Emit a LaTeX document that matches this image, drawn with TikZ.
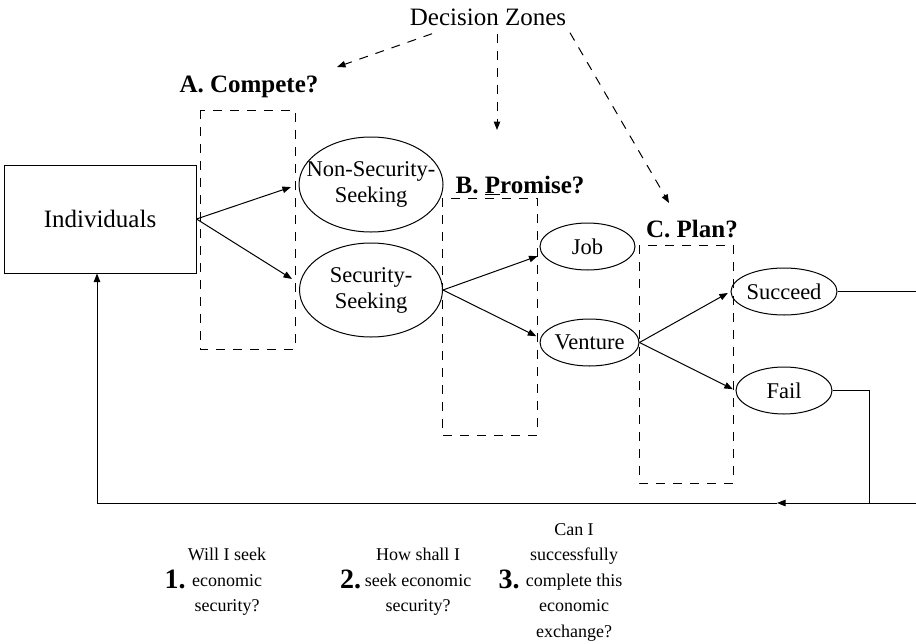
\documentclass[tikz,border=0pt]{standalone}
\usepackage{fontspec}
\setmainfont{Liberation Serif}
\usetikzlibrary{shapes.geometric,arrows.meta}
\begin{document}
\begin{tikzpicture}[x = 1pt, y = -1pt, line width = 1pt, >={Triangle[length=8.5pt, width=6.5pt]},
		choice/.style = {ellipse, draw, inner sep = 0pt, align = center, font = \fontsize{22.5}{26}\selectfont},
		zonebox/.style = {dash pattern = on 9pt off 8pt},
		heading/.style = {anchor = base, inner sep = 0pt, font = \fontsize{25}{30}\selectfont\bfseries},
		question/.style = {align = center, inner sep = 0pt, font = \fontsize{18}{25.5}\selectfont}]
		\useasboundingbox (0,0) rectangle (916,643);
		\node[anchor = base, inner sep = 0pt, font = \fontsize{25}{30}\selectfont] (zones) at (488,25) {Decision Zones};
		\node[draw, minimum width = 192pt, minimum height = 108pt, font = \fontsize{25}{30}\selectfont] (ind) at (100,219) {Individuals};
		\node[choice, inner xsep = -14pt, minimum width = 144pt, minimum height = 95pt] (nss) at (371,184.5) {Non-Security-\\Seeking};
		\node[choice, minimum width = 143pt, minimum height = 94pt] (ss) at (371,290) {Security-\\Seeking};
		\node[choice, minimum width = 95pt, minimum height = 47pt] (job) at (587.5,246.5) {Job};
		\node[choice, minimum width = 95pt, minimum height = 47pt] (vent) at (589.5,342.5) {Venture};
		\node[choice, minimum width = 96pt, minimum height = 47pt] (succ) at (784,291.5) {Succeed};
		\node[choice, minimum width = 96pt, minimum height = 47pt] (fail) at (784,390.5) {Fail};
		\node[heading] (compA) at (249,92) {A. Compete?};
		\node[heading] (promB) at (520,193) {B. \underline{P}romise?};
		\node[heading] (planC) at (692,237) {C. Plan?};
		\foreach \xa/\ya/\xb/\yb in {200/110/295/349, 442/198/537/435, 639/245/733/483}
			\draw[zonebox] (\xa,\ya) rectangle (\xb,\yb);
		\coordinate (tipA) at (337,67);
		\coordinate (tipB) at (497,130);
		\coordinate (tipC) at (669,203);
		\draw[zonebox, ->] ([shift = {(-56,8)}]zones.south) -- (tipA);
		\draw[zonebox, ->] ([shift = {(9,8)}]zones.south) -- (tipB);
		\draw[zonebox, ->] ([shift = {(82,7)}]zones.south) -- (tipC);
		\draw[->, shorten >= 8pt] (ind.east) -- (nss.west);
		\draw[->, shorten >= 9pt] (ind.east) -- (ss.175);
		\draw[->, shorten >= 5pt] (ss.east) -- (job.190);
		\draw[->, shorten >= 4.5pt] (ss.east) -- (vent.175);
		\draw[->, shorten >= 3pt] (vent.east) -- (succ.west);
		\draw[->, shorten >= 3pt] (vent.east) -- (fail.west);
		\coordinate (succR) at (916,291.5);
		\coordinate (loopR) at (916,503);
		\coordinate (loopJ) at (869,503);
		\coordinate (backtip) at (777,503);
		\draw (succ.east) -- (succR);
		\draw (fail.east) -| (loopJ);
		\draw[->] (loopR) -- (backtip);
		\draw[->] (backtip) -| ([xshift = -3pt]ind.south);
		\foreach \n/\x in {1/175, 2/350.5, 3/509}
			\node[heading, font = \fontsize{28}{30}\selectfont\bfseries] (n\n) at (\x,588) {\n.};
		\node[question] (q1) at (227,582) {Will I seek\\economic\\security?};
		\node[question] (q2) at (418,582) {How shall I\\seek economic\\security?};
		\node[question] (q3) at (574,582) {Can I\\successfully\\complete this\\economic\\exchange?};
\end{tikzpicture}
\end{document}
